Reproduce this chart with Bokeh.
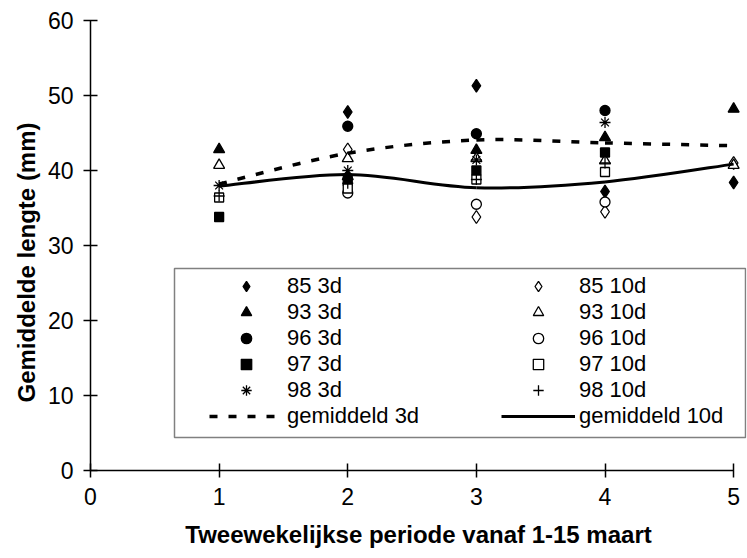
import numpy as np
from bokeh.plotting import figure
from bokeh.models import (Legend, LegendItem, BoxAnnotation, Title, FixedTicker,
                          Range1d)
from bokeh.embed import file_html
from bokeh.resources import INLINE

# Two-week periods starting 1-15 March
periods = [1, 2, 3, 4, 5]

# Mean length (mm) per year, 3-day and 10-day sampling
nan = float("nan")
y85_3d = [nan, 47.8, 51.3, 37.2, 38.4]
y85_10d = [nan, 42.8, 33.8, 34.5, 41.0]
y93_3d = [42.8, 39.2, 42.7, 44.4, 48.2]
y93_10d = [40.7, 41.6, 41.6, 41.3, 40.7]
y96_3d = [nan, 45.9, 44.9, 48.0, nan]
y96_10d = [nan, 37.0, 35.5, 35.8, nan]
y97_3d = [33.8, 38.6, 40.0, 42.4, nan]
y97_10d = [36.4, 37.6, 38.8, 39.8, nan]
y98_3d = [38.0, 40.0, 41.4, 46.4, nan]
y98_10d = [36.6, 38.3, 38.8, 41.0, nan]

x_ticks = [0, 1, 2, 3, 4, 5]
y_ticks = [0, 10, 20, 30, 40, 50, 60]

FONT = "Liberation Sans"

p = figure(width=747, height=558, output_backend="svg", toolbar_location=None,
           x_range=Range1d(0, 5.1), y_range=Range1d(0, 60),
           min_border_left=90, min_border_right=1, min_border_top=20,
           min_border_bottom=88)
p.outline_line_color = None
p.xgrid.visible = False
p.ygrid.visible = False
p.background_fill_color = "white"

for ax, ticks in ((p.xaxis[0], x_ticks), (p.yaxis[0], y_ticks)):
    ax.ticker = FixedTicker(ticks=ticks)
    ax.axis_line_color = "black"
    ax.axis_line_width = 1.5
    ax.major_tick_line_color = "black"
    ax.major_tick_line_width = 1.5
    ax.major_tick_in = 7
    ax.major_tick_out = 7
    ax.minor_tick_line_color = None
    ax.major_label_text_font = FONT
    ax.major_label_text_font_size = "23px"
    ax.major_label_text_color = "black"
    ax.major_label_standoff = 10
p.xaxis[0].bounds = (0, 5)

# x axis title sits below the tick labels
xa = p.xaxis[0]
xa.axis_label = "Tweewekelijkse periode vanaf 1-15 maart"
xa.axis_label_text_font = FONT
xa.axis_label_text_font_style = "bold"
xa.axis_label_text_font_size = "24px"
xa.axis_label_text_color = "black"
xa.axis_label_standoff = 13

# legend frame
p.add_layout(BoxAnnotation(left=84, right=655, top=202, bottom=33,
                           left_units="screen", right_units="screen",
                           top_units="screen", bottom_units="screen",
                           fill_color="white", fill_alpha=1.0,
                           line_color="#808080", line_alpha=1.0,
                           line_width=1.5))

series = [
    ("85 3d", y85_3d, dict(marker="diamond", size=13, fill_color="black")),
    ("85 10d", y85_10d, dict(marker="diamond", size=13, fill_color="white")),
    ("93 3d", y93_3d, dict(marker="triangle", size=11, fill_color="black")),
    ("93 10d", y93_10d, dict(marker="triangle", size=11, fill_color="white")),
    ("96 3d", y96_3d, dict(marker="circle", size=10, fill_color="black")),
    ("96 10d", y96_10d, dict(marker="circle", size=10, fill_color="white")),
    ("97 3d", y97_3d, dict(marker="square", size=9, fill_color="black")),
    ("97 10d", y97_10d, dict(marker="square", size=9, fill_color="white")),
    ("98 3d", y98_3d, dict(marker="asterisk", size=11, fill_color="black")),
    ("98 10d", y98_10d, dict(marker="cross", size=11, fill_color="black")),
]

renderers = {}
for name, vals, style in series:
    r = p.scatter(periods, vals, line_color="black", line_width=1.3, **style)
    renderers[name] = r


def smooth_segments(xs, ys):
    """Cubic Bezier segments of a Catmull-Rom style smoothed line."""
    n = len(xs)
    seg = dict(x0=[], y0=[], x1=[], y1=[], cx0=[], cy0=[], cx1=[], cy1=[])
    for i in range(n - 1):
        xa_, ya_ = xs[max(i - 1, 0)], ys[max(i - 1, 0)]
        xb, yb = xs[i], ys[i]
        xc, yc = xs[i + 1], ys[i + 1]
        xd, yd = xs[min(i + 2, n - 1)], ys[min(i + 2, n - 1)]
        seg["x0"].append(xb)
        seg["y0"].append(yb)
        seg["x1"].append(xc)
        seg["y1"].append(yc)
        seg["cx0"].append(xb + (xc - xa_) / 6)
        seg["cy0"].append(yb + (yc - ya_) / 6)
        seg["cx1"].append(xc - (xd - xb) / 6)
        seg["cy1"].append(yc - (yd - yb) / 6)
    return seg


mean_3d = np.nanmean([y85_3d, y93_3d, y96_3d, y97_3d, y98_3d], axis=0)
mean_10d = np.nanmean([y85_10d, y93_10d, y96_10d, y97_10d, y98_10d], axis=0)

r_m3 = p.bezier(**smooth_segments(periods, list(mean_3d)), line_color="black",
                line_width=3.5, line_dash="8 11")
r_m10 = p.bezier(**smooth_segments(periods, list(mean_10d)), line_color="black",
                 line_width=3)

col_left = ["85 3d", "93 3d", "96 3d", "97 3d", "98 3d"]
col_right = ["85 10d", "93 10d", "96 10d", "97 10d", "98 10d"]

leg_common = dict(border_line_color=None, background_fill_alpha=0,
                  padding=0, margin=0, spacing=0, glyph_height=26,
                  label_height=26, glyph_width=74, label_standoff=4,
                  label_text_font=FONT, label_text_font_size="22px",
                  label_text_color="black", label_text_baseline="middle")

leg1 = Legend(items=[LegendItem(label=n, renderers=[renderers[n]]) for n in col_left]
              + [LegendItem(label="gemiddeld 3d", renderers=[r_m3])],
              location=(119, 41), **leg_common)
leg2 = Legend(items=[LegendItem(label=n, renderers=[renderers[n]]) for n in col_right]
              + [LegendItem(label="gemiddeld 10d", renderers=[r_m10])],
              location=(411, 41), **leg_common)
p.add_layout(leg1)
p.add_layout(leg2)

# y axis title
p.add_layout(Title(text="Gemiddelde lengte (mm)", align="left", offset=68,
                   text_font=FONT, text_font_style="bold",
                   text_font_size="24px", text_color="black",
                   vertical_align="middle", standoff=8), "left")

open("out.html", "w").write(file_html(p, INLINE))
